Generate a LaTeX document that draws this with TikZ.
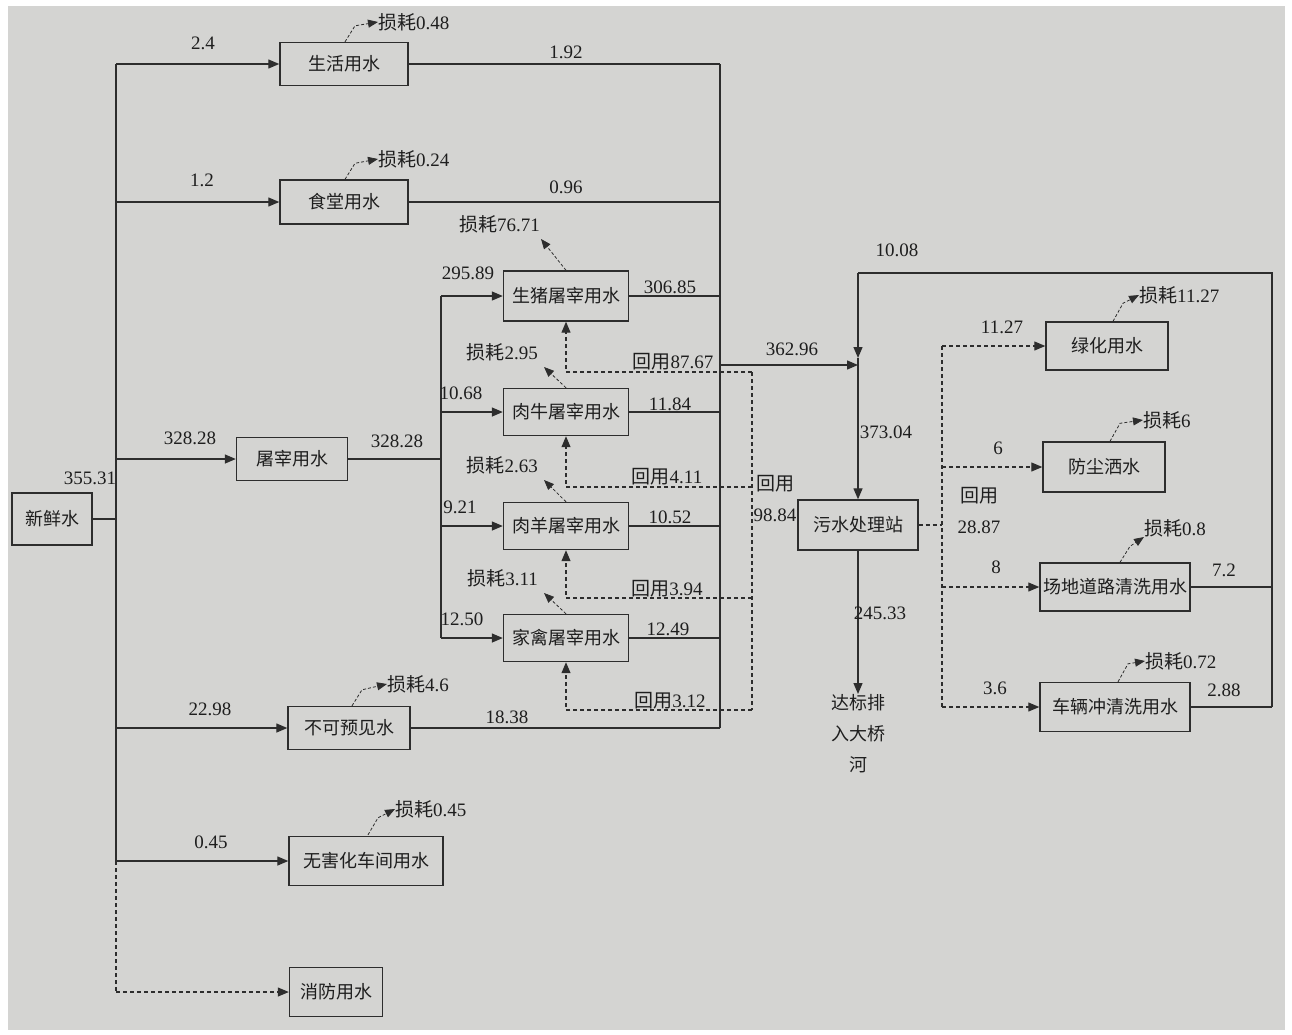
\documentclass[tikz,border=0pt]{standalone}
\usepackage{fontspec}
\setmainfont{Liberation Serif}
\newfontfamily\cjk{Noto Sans CJK SC}
\usetikzlibrary{arrows.meta}
\newcommand\zh[1]{{\cjk #1}}
\definecolor{bg}{RGB}{212,212,210}
\definecolor{ln}{RGB}{45,45,45}
\definecolor{tx}{RGB}{30,30,30}
\begin{document}
\begin{tikzpicture}[x=1pt,y=-1pt,
 box/.style={draw=ln,line width=1.4pt,inner sep=0pt,text=tx,font=\fontsize{18}{20}\selectfont\cjk},
 lbl/.style={text=tx,inner sep=0pt,font=\fontsize{19}{20}\selectfont},
 wire/.style={draw=ln,line width=1.3pt},
 arr/.style={wire,-{Triangle[length=11pt,width=9pt]}},
 dwire/.style={draw=ln,line width=1.1pt,dash pattern=on 4pt off 3pt},
 darr/.style={dwire,-{Triangle[length=11pt,width=9pt]}},
 loss/.style={draw=ln,line width=0.8pt,dash pattern=on 3pt off 2pt,-{Triangle[length=10pt,width=8pt]}},
]
\useasboundingbox (0,0) rectangle (1292,1034);
\fill[white] (0,0) rectangle (1292,1034);
\fill[bg] (8,6) rectangle (1285,1030);

% ---------- boxes ----------
\node[box,minimum width=80pt,minimum height=52pt] (fresh) at (52,519) {新鲜水};
\node[box,minimum width=128pt,minimum height=43pt] (sh) at (344,64) {生活用水};
\node[box,minimum width=128pt,minimum height=44pt] (st) at (344,202) {食堂用水};
\node[box,minimum width=111pt,minimum height=43pt] (tz) at (292,459) {屠宰用水};
\node[box,minimum width=122pt,minimum height=43pt] (bk) at (349,728) {不可预见水};
\node[box,minimum width=154pt,minimum height=49pt] (wh) at (366,861) {无害化车间用水};
\node[box,minimum width=93pt,minimum height=49pt] (xf) at (336,992) {消防用水};

\node[box,minimum width=125pt,minimum height=50pt] (pig) at (566,296) {生猪屠宰用水};
\node[box,minimum width=125pt,minimum height=47pt] (cow) at (566,412) {肉牛屠宰用水};
\node[box,minimum width=125pt,minimum height=47pt] (sheep) at (566,526) {肉羊屠宰用水};
\node[box,minimum width=125pt,minimum height=47pt] (fowl) at (566,638) {家禽屠宰用水};

\node[box,minimum width=120pt,minimum height=50pt] (ws) at (858,525) {污水处理站};
\node[text=tx,inner sep=0pt,align=center,font=\fontsize{18}{31}\selectfont\cjk,anchor=north] (river) at (858,694) {达标排\\入大桥\\河};

\node[box,minimum width=122pt,minimum height=48pt] (lh) at (1107,346) {绿化用水};
\node[box,minimum width=122pt,minimum height=50pt] (fc) at (1104,467) {防尘洒水};
\node[box,minimum width=150pt,minimum height=48pt] (cd) at (1115,587) {场地道路清洗用水};
\node[box,minimum width=150pt,minimum height=49pt] (cl) at (1115,707) {车辆冲清洗用水};

% ---------- coordinates ----------
\coordinate (t1) at (116,64);
\coordinate (t2) at (116,202);
\coordinate (t3) at (116,459);
\coordinate (tj) at (116,519);
\coordinate (t5) at (116,728);
\coordinate (t6) at (116,861);
\coordinate (t7) at (116,992);
\coordinate (cx) at (720,0);
\coordinate (ctop) at (720,64);
\coordinate (cbot) at (720,728);
\coordinate (cmid) at (720,365);
\coordinate (sx) at (441,0);
\coordinate (stop) at (441,296);
\coordinate (sbot) at (441,638);
\coordinate (r1) at (752,372);
\coordinate (r2) at (752,487);
\coordinate (r3) at (752,598);
\coordinate (r4) at (752,710);
\coordinate (jin) at (858,365);
\coordinate (jdn) at (858,358);
\coordinate (ltl) at (858,273);
\coordinate (ltr) at (1272,273);
\coordinate (lx) at (1272,0);
\coordinate (lbot) at (1272,707);
\coordinate (dx) at (942,0);
\coordinate (dtop) at (942,346);
\coordinate (dbot) at (942,707);
\coordinate (dmid) at (942,525);

% ---------- fresh water trunk ----------
\draw[wire] (fresh.east) -- (tj);
\draw[wire] (t1) -- (t6);
\draw[arr] (t1) -- (sh.west);
\draw[arr] (t2) -- (st.west);
\draw[arr] (t3) -- (tz.west);
\draw[arr] (t5) -- (bk.west);
\draw[arr] (t6) -- (wh.west);
\draw[dwire] (t6) -- (t7);
\draw[darr] (t7) -- (xf.west);

% ---------- slaughter ----------
\draw[wire] (tz.east) -- (tz.east -| sx);
\draw[wire] (stop) -- (sbot);
\draw[arr] (stop) -- (pig.west);
\draw[arr] (cow.west -| sx) -- (cow.west);
\draw[arr] (sheep.west -| sx) -- (sheep.west);
\draw[arr] (sbot) -- (fowl.west);

% ---------- collector ----------
\draw[wire] (sh.east) -- (sh.east -| cx);
\draw[wire] (st.east) -- (st.east -| cx);
\draw[wire] (pig.east) -- (pig.east -| cx);
\draw[wire] (cow.east) -- (cow.east -| cx);
\draw[wire] (sheep.east) -- (sheep.east -| cx);
\draw[wire] (fowl.east) -- (fowl.east -| cx);
\draw[wire] (bk.east) -- (bk.east -| cx);
\draw[wire] (ctop) -- (cbot);
\draw[arr] (cmid) -- (jin);

% ---------- recycling to slaughter ----------
\draw[dwire] (r1) -- (r4);
\draw[darr] (r1) -| (pig.south);
\draw[darr] (r2) -| (cow.south);
\draw[darr] (r3) -| (sheep.south);
\draw[darr] (r4) -| (fowl.south);

% ---------- station ----------
\draw[wire] (lbot) -- (ltr) -- (ltl);
\draw[arr] (ltl) -- (jdn);
\draw[arr] (jdn) -- (ws.north);
\draw[arr] (ws.south) -- (river.north);
\draw[wire] (cd.east) -- (cd.east -| lx);
\draw[wire] (cl.east) -- (lbot);

\draw[dwire] (ws.east) -- (dmid);
\draw[dwire] (dtop) -- (dbot);
\draw[darr] (dtop) -- (lh.west);
\draw[darr] (fc.west -| dx) -- (fc.west);
\draw[darr] (cd.west -| dx) -- (cd.west);
\draw[darr] (dbot) -- (cl.west);

% ---------- losses (right pointing) ----------
\node[lbl,anchor=west] (l1) at (378,22) {\zh{损耗}0.48};
\draw[loss] (sh.north) ++(1,0) -- ++(10,-16) -- (l1.west);
\node[lbl,anchor=west] (l2) at (378,159) {\zh{损耗}0.24};
\draw[loss] (st.north) ++(1,0) -- ++(10,-16) -- (l2.west);
\node[lbl,anchor=west] (l3) at (387,684) {\zh{损耗}4.6};
\draw[loss] (bk.north) ++(3,0) -- ++(10,-16) -- (l3.west);
\node[lbl,anchor=west] (l4) at (395,809) {\zh{损耗}0.45};
\draw[loss] (wh.north) ++(2,-1) -- ++(10,-17) -- (l4.west);
\node[lbl,anchor=west] (l5) at (1139,295) {\zh{损耗}11.27};
\draw[loss] (lh.north) ++(6,0) -- ++(10,-18) -- (l5.west);
\node[lbl,anchor=west] (l6) at (1143,420) {\zh{损耗}6};
\draw[loss] (fc.north) ++(6,0) -- ++(10,-18) -- (l6.west);
\node[lbl,anchor=west] (l7) at (1144,528) {\zh{损耗}0.8};
\draw[loss] (cd.north) ++(5,0) -- ++(10,-16) -- (l7.south west);
\node[lbl,anchor=west] (l8) at (1145,661) {\zh{损耗}0.72};
\draw[loss] (cl.north) ++(3,0) -- ++(10,-18) -- (l8.west);

% ---------- losses (slaughter, up-left) ----------
\node[lbl,anchor=east] (p1) at (540,224) {\zh{损耗}76.71};
\draw[loss] (pig.north) -- ([xshift=1pt,yshift=-6pt]p1.south east);
\node[lbl,anchor=east] (p2) at (538,352) {\zh{损耗}2.95};
\draw[loss] (cow.north) -- ([xshift=6pt,yshift=-6pt]p2.south east);
\node[lbl,anchor=east] (p3) at (538,465) {\zh{损耗}2.63};
\draw[loss] (sheep.north) -- ([xshift=6pt,yshift=-6pt]p3.south east);
\node[lbl,anchor=east] (p4) at (538,578) {\zh{损耗}3.11};
\draw[loss] (fowl.north) -- ([xshift=6pt,yshift=-6pt]p4.south east);

% ---------- flow labels ----------
\node[lbl] at (203,43) {2.4};
\node[lbl] at (202,180) {1.2};
\node[lbl] at (190,438) {328.28};
\node[lbl] at (90,478) {355.31};
\node[lbl] at (210,709) {22.98};
\node[lbl] at (211,842) {0.45};
\node[lbl] at (566,52) {1.92};
\node[lbl] at (566,187) {0.96};
\node[lbl] at (397,441) {328.28};
\node[lbl] at (468,273) {295.89};
\node[lbl] at (461,393) {10.68};
\node[lbl] at (460,507) {9.21};
\node[lbl] at (462,619) {12.50};
\node[lbl] at (670,287) {306.85};
\node[lbl] at (670,404) {11.84};
\node[lbl] at (670,517) {10.52};
\node[lbl] at (668,629) {12.49};
\node[lbl] at (673,362) {\zh{回用}87.67};
\node[lbl] at (667,477) {\zh{回用}4.11};
\node[lbl] at (667,589) {\zh{回用}3.94};
\node[lbl] at (670,701) {\zh{回用}3.12};
\node[lbl] at (507,717) {18.38};
\node[lbl] at (792,349) {362.96};
\node[lbl] at (897,250) {10.08};
\node[lbl] at (886,432) {373.04};
\node[lbl] at (775,484) {\zh{回用}};
\node[lbl] at (775,515) {98.84};
\node[lbl] at (880,613) {245.33};
\node[lbl] at (1002,327) {11.27};
\node[lbl] at (998,448) {6};
\node[lbl] at (979,496) {\zh{回用}};
\node[lbl] at (979,527) {28.87};
\node[lbl] at (996,567) {8};
\node[lbl] at (995,688) {3.6};
\node[lbl] at (1224,570) {7.2};
\node[lbl] at (1224,690) {2.88};
\end{tikzpicture}
\end{document}
